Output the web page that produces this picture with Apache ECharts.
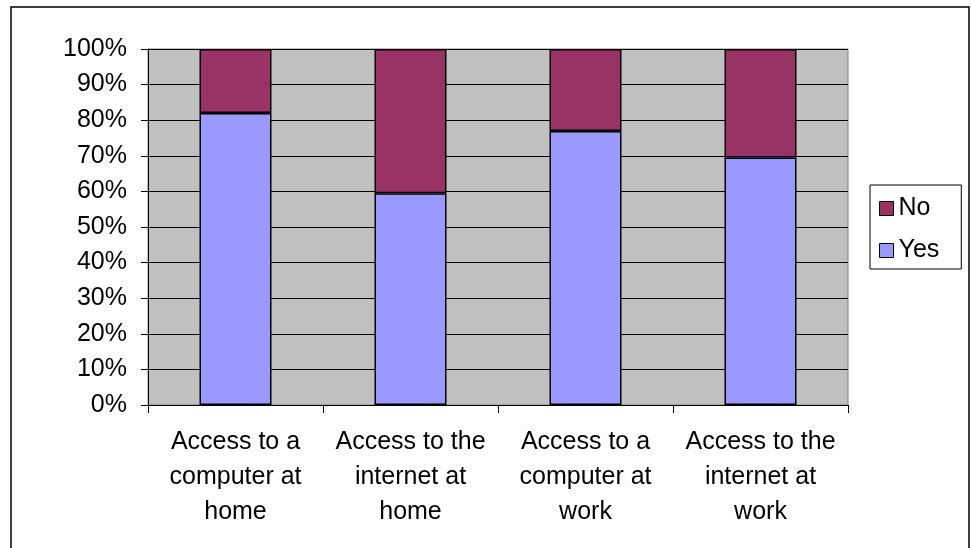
<!DOCTYPE html>
<html>
<head>
<meta charset="utf-8">
<style>
  html, body { margin: 0; padding: 0; background: #ffffff; }
  #chart { width: 971px; height: 548px; }
</style>
<script src="https://cdn.jsdelivr.net/npm/echarts@6/dist/echarts.min.js"></script>
</head>
<body>
<div id="chart"></div>
<script>
// Share of respondents with / without access, per category (percent)
const categories = [
  'Access to a\ncomputer at\nhome',
  'Access to the\ninternet at\nhome',
  'Access to a\ncomputer at\nwork',
  'Access to the\ninternet at\nwork'
];
const yesValues = [82, 59.5, 77, 69.5];
const noValues = [18, 40.5, 23, 30.5];
const seriesNames = ['Yes', 'No'];
const legendOrder = ['No', 'Yes'];
const yTicks = { min: 0, max: 100, interval: 10 };

const FONT = "'Liberation Sans', Arial, sans-serif";

const chart = echarts.init(document.getElementById('chart'), null, { renderer: 'canvas' });

chart.setOption({
  animation: false,
  backgroundColor: '#ffffff',
  textStyle: { fontFamily: FONT },
  graphic: [
    {
      type: 'rect',
      shape: { x: 11, y: 7, width: 958, height: 560 },
      style: { fill: 'none', stroke: '#000000', lineWidth: 1.5 },
      z: 0
    }
  ],
  grid: {
    left: 148,
    right: 123,
    top: 49,
    bottom: 143,
    show: true,
    backgroundColor: '#c0c0c0',
    borderColor: '#808080',
    borderWidth: 1
  },
  legend: {
    data: legendOrder,
    orient: 'vertical',
    left: 870,
    top: 185,
    padding: [11, 22, 6, 9],
    itemGap: 17,
    itemWidth: 14,
    itemHeight: 14,
    icon: 'rect',
    backgroundColor: '#ffffff',
    borderColor: '#000000',
    borderWidth: 1,
    textStyle: { fontFamily: FONT, fontSize: 25, color: '#000000', lineHeight: 25 },
    itemStyle: { borderColor: '#000000', borderWidth: 1 }
  },
  xAxis: {
    type: 'category',
    data: categories,
    boundaryGap: true,
    axisLine: { show: true, lineStyle: { color: '#000000', width: 1 } },
    axisTick: { show: true, length: 8, alignWithLabel: false, lineStyle: { color: '#000000' } },
    axisLabel: {
      interval: 0,
      margin: 20,
      fontFamily: FONT,
      fontSize: 25,
      lineHeight: 35,
      color: '#000000',
      align: 'center'
    },
    splitLine: { show: false }
  },
  yAxis: {
    type: 'value',
    min: yTicks.min,
    max: yTicks.max,
    interval: yTicks.interval,
    axisLine: { show: true, lineStyle: { color: '#000000', width: 1 } },
    axisTick: { show: true, length: 7, inside: false, lineStyle: { color: '#000000' } },
    axisLabel: {
      margin: 21,
      fontFamily: FONT,
      fontSize: 25,
      color: '#000000',
      formatter: '{value}%'
    },
    splitLine: { show: true, lineStyle: { color: '#000000', width: 1 } }
  },
  series: [
    {
      name: seriesNames[0],
      type: 'bar',
      stack: 'share',
      data: yesValues,
      barWidth: 72,
      itemStyle: { color: '#9999ff', borderColor: '#000000', borderWidth: 1.5 }
    },
    {
      name: seriesNames[1],
      type: 'bar',
      stack: 'share',
      data: noValues,
      barWidth: 72,
      itemStyle: { color: '#993366', borderColor: '#000000', borderWidth: 1.5 }
    }
  ]
});
</script>
</body>
</html>
